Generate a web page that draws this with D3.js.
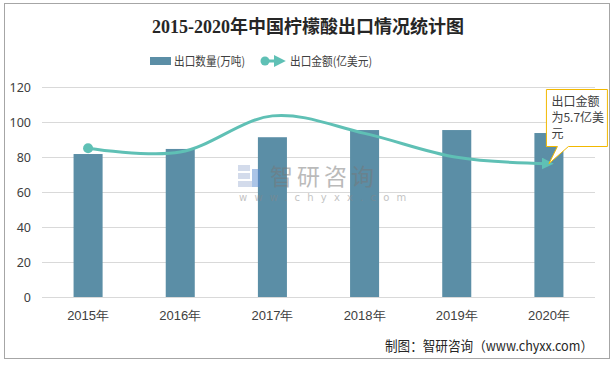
<!DOCTYPE html>
<html><head><meta charset="utf-8">
<script src="https://cdn.jsdelivr.net/npm/d3@7"></script>
<style>
html,body{margin:0;padding:0;background:#fff;}
svg{display:block;font-family:"Noto Sans CJK SC","Noto Sans",sans-serif;}
</style></head>
<body>
<svg id="c" width="616" height="368"></svg>
<script>
const title = "2015-2020年中国柠檬酸出口情况统计图";
const years = ["2015年","2016年","2017年","2018年","2019年","2020年"];
const exportVolume = [81.7, 84.6, 91.3, 95.4, 95.4, 93.7];
const exportValue = [85, 82.8, 103.5, 93.5, 79.8, 76.2];
const yTicks = [0,20,40,60,80,100,120];
const seriesNames = ["出口数量(万吨)","出口金额(亿美元)"];
const calloutLines = ["出口金额","为5.7亿美","元"];
const sourceText = "制图：智研咨询（www.chyxx.com）";

const barColor = "#5b8ea6", lineColor = "#5fc0b5";
const svg = d3.select("#c");

// outer border
svg.append("rect").attr("x",4.5).attr("y",3.5).attr("width",605).attr("height",355)
  .attr("fill","#fff").attr("stroke","#a6a6a6").attr("stroke-width",1);

const x = d3.scaleBand().domain(years).range([42,595]).paddingInner(0.685).paddingOuter(0.3425);
const y = d3.scaleLinear().domain([0,120]).range([297,87]);

// gridlines
svg.append("g").selectAll("line").data(yTicks.filter(d=>d>0)).join("line")
  .attr("x1",42).attr("x2",595).attr("y1",d=>y(d)+0.5).attr("y2",d=>y(d)+0.5)
  .attr("stroke","#d9d9d9").attr("stroke-width",1);

// y axis
const ya = svg.append("g").attr("transform","translate(42,0)")
  .call(d3.axisLeft(y).tickValues(yTicks).tickSize(0).tickPadding(11));
ya.select(".domain").remove();
ya.selectAll("text").attr("font-size",12.5).attr("fill","#404040").attr("font-family","'Noto Sans','Noto Sans CJK SC',sans-serif");

// bars
svg.append("g").selectAll("rect").data(years).join("rect")
  .attr("x",d=>x(d)).attr("width",x.bandwidth())
  .attr("y",(d,i)=>y(exportVolume[i])).attr("height",(d,i)=>y(0)-y(exportVolume[i]))
  .attr("fill",barColor);

// x axis
const xa = svg.append("g").attr("transform","translate(0,297.5)")
  .call(d3.axisBottom(x).tickSize(0).tickPadding(13));
xa.select(".domain").attr("stroke","#d9d9d9").attr("d","M42,0H595");
xa.selectAll("text").attr("font-size",13).attr("fill","#404040");

// watermark
const wm = svg.append("g").attr("opacity",0.5);
const wx = 238, wy = 165;
wm.append("rect").attr("x",wx).attr("y",wy).attr("width",12).attr("height",6).attr("fill","#a8b8d8");
wm.append("rect").attr("x",wx).attr("y",wy+8).attr("width",12).attr("height",6).attr("fill","#a8b8d8");
wm.append("rect").attr("x",wx).attr("y",wy+16).attr("width",18).attr("height",6).attr("fill","#a8b8d8");
wm.append("rect").attr("x",wx+14).attr("y",wy+4).attr("width",8).attr("height",18).attr("fill","#5a8ad0");
wm.append("text").attr("x",wx+32).attr("y",wy+20).attr("font-size",23).attr("fill","#777")
  .attr("letter-spacing",4).text("智研咨询");
wm.append("text").attr("x",wx+1).attr("y",wy+36).attr("font-size",10).attr("fill","#888")
  .attr("font-family","'DejaVu Sans',sans-serif").attr("letter-spacing",7.2).text("www.chyxx.com");

// line
const defs = svg.append("defs");
defs.append("marker").attr("id","arr").attr("viewBox","0 0 10 10").attr("refX",6).attr("refY",5)
  .attr("markerWidth",4).attr("markerHeight",4).attr("orient","auto")
  .append("path").attr("d","M0,0L10,5L0,10z").attr("fill",lineColor);
const pts = years.map((d,i)=>[x(d)+x.bandwidth()/2, y(exportValue[i])]);
svg.append("path").attr("d",d3.line().curve(d3.curveCatmullRom.alpha(0))(pts))
  .attr("fill","none").attr("stroke",lineColor).attr("stroke-width",3)
  .attr("marker-end","url(#arr)");
svg.append("circle").attr("cx",pts[0][0]).attr("cy",pts[0][1]).attr("r",5).attr("fill",lineColor);

// callout
const lp = pts[pts.length-1];
const bx = lp[0]-2.5, by = 89.5, bw = 61, bh = 57;
svg.append("path")
  .attr("d",`M${bx},${by}H${bx+bw}V${by+bh}H${bx+22}L${lp[0]},${lp[1]}L${bx+11},${by+bh}H${bx}Z`)
  .attr("fill","#fff").attr("stroke","#f2b800").attr("stroke-width",1);
svg.append("g").selectAll("text").data(calloutLines).join("text")
  .attr("x",bx+5).attr("y",(d,i)=>by+16+i*16).attr("font-size",12).attr("fill","#404040").text(d=>d);

// title
svg.append("text").attr("x",308).attr("y",33).attr("text-anchor","middle")
  .attr("font-size",18).attr("font-weight","bold").attr("fill","#262626")
  .attr("font-family","'Liberation Serif','Noto Sans CJK SC',serif").text(title);

// legend
const lg = svg.append("g");
lg.append("rect").attr("x",150).attr("y",57).attr("width",21).attr("height",8).attr("fill",barColor);
lg.append("text").attr("x",174).attr("y",65.5).attr("font-size",12).attr("fill","#404040")
  .attr("textLength",71).attr("lengthAdjust","spacingAndGlyphs").text(seriesNames[0]);
lg.append("line").attr("x1",265).attr("x2",281).attr("y1",61).attr("y2",61).attr("stroke",lineColor).attr("stroke-width",3)
  .attr("marker-end","url(#arr)");
lg.append("circle").attr("cx",265).attr("cy",61).attr("r",4.5).attr("fill",lineColor);
lg.append("text").attr("x",290).attr("y",65.5).attr("font-size",12).attr("fill","#404040")
  .attr("textLength",82).attr("lengthAdjust","spacingAndGlyphs").text(seriesNames[1]);

// source
svg.append("text").attr("x",593).attr("y",351).attr("text-anchor","end").attr("font-size",13.5)
  .attr("fill","#262626").attr("textLength",208).attr("lengthAdjust","spacingAndGlyphs").text(sourceText);
</script>
</body></html>
